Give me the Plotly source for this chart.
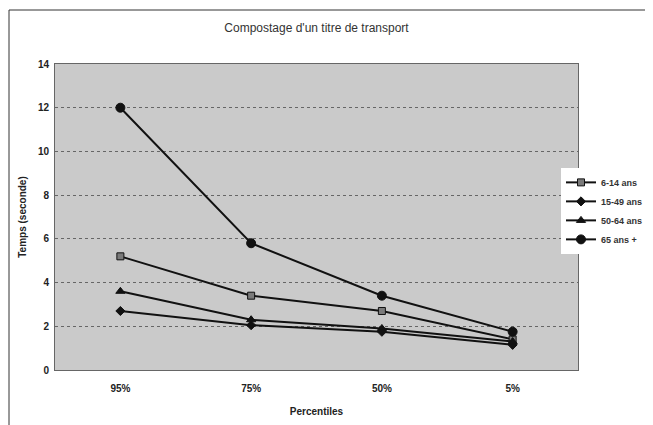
import plotly.graph_objects as go

categories = ["95%", "75%", "50%", "5%"]
s_6_14 = [5.2, 3.4, 2.7, 1.4]
s_15_49 = [2.7, 2.05, 1.75, 1.15]
s_50_64 = [3.6, 2.3, 1.9, 1.3]
s_65 = [12.0, 5.8, 3.4, 1.75]
y_ticks = [0, 2, 4, 6, 8, 10, 12, 14]

series = [
    ("6-14 ans", s_6_14, "square", "#7a7a7a", 7),
    ("15-49 ans", s_15_49, "diamond", "#111111", 7),
    ("50-64 ans", s_50_64, "triangle-up", "#111111", 8),
    ("65 ans +", s_65, "circle", "#111111", 9),
]

# page body has an 8px margin: figure occupies viewport x 8..653, y 8..425
W, H = 645, 417
L, R, T, B = 47, 75, 56, 55
PW, PH = W - L - R, H - T - B

fig = go.Figure()
for name, vals, sym, mcol, msize in series:
    fig.add_trace(go.Scatter(
        x=categories, y=vals, name="<b>" + name + "</b>", mode="lines+markers",
        line=dict(color="#111111", width=2),
        marker=dict(symbol=sym, color=mcol, size=msize,
                    line=dict(color="#111111", width=1)),
    ))

fig.update_layout(
    width=W, height=H,
    margin=dict(l=L, r=R, t=T, b=B, autoexpand=False),
    paper_bgcolor="white",
    plot_bgcolor="#cacaca",
    font=dict(family="Liberation Sans, Arial", size=10, color="#222222"),
    title=dict(text="Compostage d'un titre de transport", x=0.5, xref="paper",
               y=1 - 20 / H, yanchor="middle",
               font=dict(size=12, color="#333333")),
    showlegend=True,
    legend=dict(x=(553 - L) / PW, y=0.52, xanchor="left", yanchor="middle",
                bgcolor="white", borderwidth=0,
                font=dict(size=9, color="#333333", family="Liberation Sans, Arial"),
                tracegroupgap=2, itemwidth=30),
)
fig.update_xaxes(
    type="category", range=[-0.5, 3.5], automargin=False,
    showgrid=False, showline=True, linecolor="#666666", linewidth=1, mirror=True,
    ticks="outside", ticklen=9, tickcolor="white", tickfont=dict(size=10, color="#222222"),
    tickprefix="<b>", ticksuffix="</b>",
    title=dict(text="<b>Percentiles</b>", font=dict(size=10, color="#222222"), standoff=14),
)
fig.update_yaxes(
    range=[0, 14], tickvals=y_ticks, ticktext=["<b>%d</b>" % v for v in y_ticks],
    automargin=False,
    showgrid=True, gridcolor="#666666", griddash="dot", gridwidth=1,
    showline=True, linecolor="#666666", linewidth=1, mirror=True,
    zeroline=False, ticks="outside", ticklen=3, tickcolor="white",
    tickfont=dict(size=10, color="#222222"),
    title=dict(text="<b>Temps (seconde)</b>", font=dict(size=10, color="#222222"), standoff=9),
)

fig.add_shape(type="rect", xref="paper", yref="paper",
              x0=-(L - 1) / PW, x1=1 + (R + 20) / PW, y0=-(B + 20) / PH, y1=1 + (T - 2) / PH,
              line=dict(color="#333333", width=1), fillcolor="rgba(0,0,0,0)", layer="above")

fig.write_html("out.html")
